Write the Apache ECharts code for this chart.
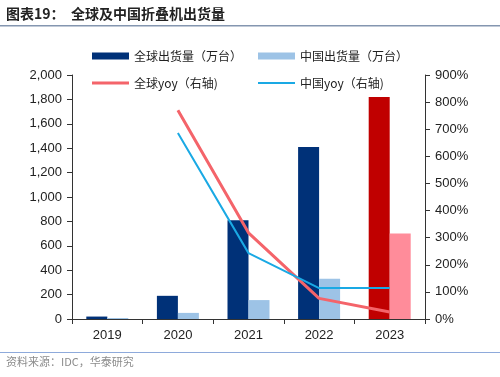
<!DOCTYPE html>
<html>
<head>
<meta charset="utf-8">
<script src="https://cdn.jsdelivr.net/npm/echarts@6/dist/echarts.min.js"></script>
<style>
html, body { margin: 0; padding: 0; background: #fff; }
#chart { width: 500px; height: 377px; }
</style>
</head>
<body>
<div id="chart"></div>
<script>
var years = ['2019', '2020', '2021', '2022', '2023'];
var globalShip = [20, 190, 810, 1410, 1820];
var chinaShip = [8, 50, 155, 330, 700];
var globalYoy = [null, 770, 318, 76, 26];
var chinaYoy = [null, 686, 243, 114, 114];
var leftTicks = [0, 2000, 200];
var rightTicks = [0, 900, 100];

var cjk = '"Noto Sans CJK SC", sans-serif';
var lat = 'Arial, "Liberation Sans", sans-serif';

function colorLast(values, normal, last) {
    var out = [];
    for (var i = 0; i < values.length; i++) {
        out.push({
            value: values[i],
            itemStyle: { color: i === values.length - 1 ? last : normal }
        });
    }
    return out;
}

var chart = echarts.init(document.getElementById('chart'));
var legendText = { fontSize: 12, color: '#222', fontFamily: cjk };
var option = {
    animation: false,
    textStyle: { fontFamily: lat },
    grid: { left: 72, right: 75, top: 75, bottom: 58 },
    graphic: [
        { type: 'text', left: 6, top: 7, style: { text: '图表19：  全球及中国折叠机出货量', fontSize: 14, fontWeight: 'bold', fill: '#222', fontFamily: cjk } },
        { type: 'rect', shape: { x: 0, y: 25, width: 500, height: 1.5 }, style: { fill: '#8496b0' } },
        { type: 'rect', shape: { x: 0, y: 352, width: 500, height: 1 }, style: { fill: '#8eaadb' } },
        { type: 'text', left: 6, top: 356, style: { text: '资料来源：IDC，华泰研究', fontSize: 11, fill: '#8c8c8c', fontFamily: cjk } }
    ],
    legend: [
        { left: 87, top: 45, itemWidth: 37, itemHeight: 7, itemGap: 0, textStyle: legendText, data: [{ name: '全球出货量（万台）', icon: 'rect', itemStyle: { color: '#003178' } }] },
        { left: 253, top: 45, itemWidth: 37, itemHeight: 7, itemGap: 0, textStyle: legendText, data: [{ name: '中国出货量（万台）', icon: 'rect', itemStyle: { color: '#9dc3e6' } }] },
        { left: 87, top: 72, itemWidth: 37, itemHeight: 3, itemGap: 0, textStyle: legendText, data: [{ name: '全球yoy（右轴)', icon: 'rect' }] },
        { left: 253, top: 72, itemWidth: 37, itemHeight: 2, itemGap: 0, textStyle: legendText, data: [{ name: '中国yoy（右轴)', icon: 'rect' }] }
    ],
    xAxis: {
        type: 'category',
        data: years,
        axisLine: { lineStyle: { color: '#333' } },
        axisTick: { show: true, lineStyle: { color: '#333' } },
        axisLabel: { fontSize: 13, color: '#222', margin: 10 }
    },
    yAxis: [{
        type: 'value',
        min: leftTicks[0], max: leftTicks[1], interval: leftTicks[2],
        axisLine: { show: true, lineStyle: { color: '#333' } },
        axisTick: { show: true, lineStyle: { color: '#333' } },
        splitLine: { show: false },
        axisLabel: {
            fontSize: 13, color: '#222', margin: 10,
            formatter: function(v) { return v.toLocaleString('en-US'); }
        }
    }, {
        type: 'value',
        min: rightTicks[0], max: rightTicks[1], interval: rightTicks[2],
        axisLine: { show: true, lineStyle: { color: '#333' } },
        axisTick: { show: true, lineStyle: { color: '#333' } },
        splitLine: { show: false },
        axisLabel: { fontSize: 13, color: '#222', margin: 10, formatter: '{value}%' }
    }],
    series: [{
        name: '全球出货量（万台）',
        type: 'bar',
        barWidth: 21,
        barGap: '0%',
        data: colorLast(globalShip, '#003178', '#c00000'),
        itemStyle: { color: '#003178' }
    }, {
        name: '中国出货量（万台）',
        type: 'bar',
        barWidth: 21,
        barGap: '0%',
        data: colorLast(chinaShip, '#9dc3e6', '#ff8c9a'),
        itemStyle: { color: '#9dc3e6' }
    }, {
        name: '全球yoy（右轴)',
        type: 'line',
        yAxisIndex: 1,
        data: globalYoy,
        showSymbol: false,
        color: '#f4646a',
        lineStyle: { width: 3, color: '#f4646a' },
        z: 5
    }, {
        name: '中国yoy（右轴)',
        type: 'line',
        yAxisIndex: 1,
        data: chinaYoy,
        showSymbol: false,
        color: '#1aa9e4',
        lineStyle: { width: 2, color: '#1aa9e4' },
        z: 6
    }]
};
chart.setOption(option);
</script>
</body>
</html>
